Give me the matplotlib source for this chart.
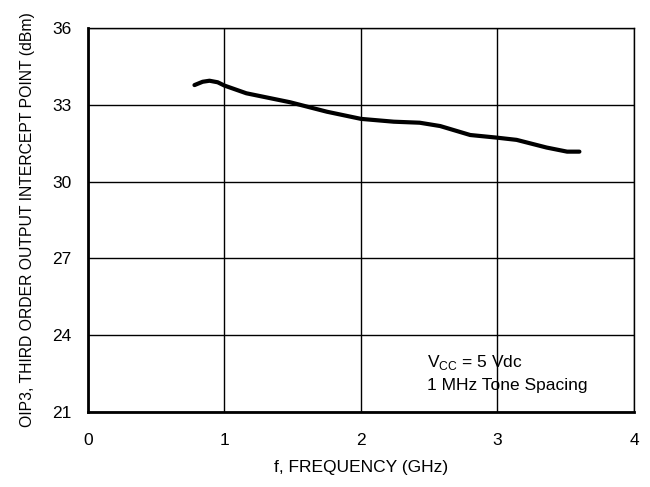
import matplotlib
matplotlib.use("Agg")
import matplotlib.pyplot as plt

plt.rcParams['font.family'] = ['Liberation Sans', 'DejaVu Sans']

freq = [0.78, 0.84, 0.89, 0.95, 1.0, 1.16, 1.48, 1.75, 2.0, 2.24, 2.43, 2.58, 2.80, 2.99, 3.14, 3.36, 3.51, 3.60]
oip3 = [33.77, 33.9, 33.94, 33.88, 33.75, 33.45, 33.1, 32.73, 32.45, 32.34, 32.30, 32.17, 31.82, 31.72, 31.63, 31.33, 31.17, 31.17]
xticks = [0, 1, 2, 3, 4]
yticks = [21, 24, 27, 30, 33, 36]

fig = plt.figure(figsize=(6.5, 4.87), dpi=100)
ax = fig.add_axes([88/650, 1-412/487, (634-88)/650, (412-28)/487])
ax.plot(freq, oip3, color='black', lw=3.0, solid_capstyle='round')
ax.set_xlim(0, 4)
ax.set_ylim(21, 36)
ax.set_xticks(xticks)
ax.set_yticks(yticks)
ax.grid(True, color='black', lw=1)
ax.tick_params(axis='y', length=0, labelsize=12.5, pad=12)
ax.tick_params(axis='x', length=0, labelsize=12.5, pad=15)
for s in ['left', 'bottom']:
    ax.spines[s].set_linewidth(2)
for s in ['top', 'right']:
    ax.spines[s].set_linewidth(1)
ax.set_xlabel('f, FREQUENCY (GHz)', fontsize=12.5, labelpad=9)
ax.set_ylabel('OIP3, THIRD ORDER OUTPUT INTERCEPT POINT (dBm)', fontsize=11.3, labelpad=12)
ax.text(2.48, 22.95, r'V$_{\mathregular{CC}}$ = 5 Vdc', fontsize=12.5, va='center')
ax.text(2.48, 22.05, '1 MHz Tone Spacing', fontsize=12.5, va='center')
fig.savefig('out.png', dpi=100)
